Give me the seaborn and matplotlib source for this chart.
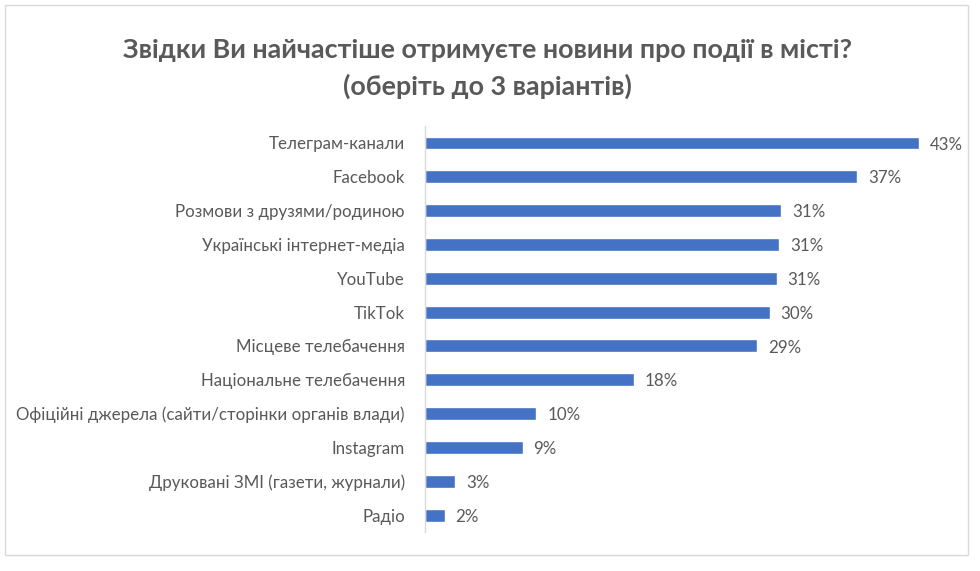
import matplotlib
matplotlib.use("Agg")
import matplotlib.pyplot as plt
import seaborn as sns
import pandas as pd
from matplotlib.patches import Rectangle

categories = [
    "Телеграм-канали",
    "Facebook",
    "Розмови з друзями/родиною",
    "Українські інтернет-медіа",
    "YouTube",
    "TikTok",
    "Місцеве телебачення",
    "Національне телебачення",
    "Офіційні джерела (сайти/сторінки органів влади)",
    "Instagram",
    "Друковані ЗМІ (газети, журнали)",
    "Радіо",
]
values = [43.0, 37.6, 31.0, 30.8, 30.6, 30.0, 28.9, 18.2, 9.7, 8.5, 2.6, 1.7]
labels = ["43%", "37%", "31%", "31%", "31%", "30%", "29%", "18%", "10%", "9%", "3%", "2%"]

df = pd.DataFrame({"cat": categories, "val": values})

sns.set_theme(style="white")
plt.rcParams["font.family"] = ["Lato", "DejaVu Sans"]

grey = "#595959"
fig = plt.figure(figsize=(9.8, 5.71), dpi=100)
ax = fig.add_axes([0.4337, 0.0683, 0.5276, 0.711])

sns.barplot(data=df, x="val", y="cat", color="#4472C4", saturation=1,
            width=0.38, ax=ax)

# value labels to the right of each bar
for p, lab in zip(ax.patches, labels):
    ax.text(p.get_width() + 0.95, p.get_y() + p.get_height() / 2 + 0.05, lab,
            va="center", ha="left", fontsize=12.2, color=grey)

ax.set_xlim(0, 45)
ax.set_ylim(11.5, -0.5)
ax.set_xlabel("")
ax.set_ylabel("")
ax.set_xticks([])
ax.tick_params(axis="y", length=0, pad=14.5, labelsize=12.2, labelcolor=grey)
for s in ["top", "right", "bottom"]:
    ax.spines[s].set_visible(False)
ax.spines["left"].set_color("#d9d9d9")
ax.spines["left"].set_linewidth(1)

fig.text(0.497, 0.912, "Звідки Ви найчастіше отримуєте новини про події в місті?",
         ha="center", va="center", fontsize=19.4, fontweight="bold", color=grey)
fig.text(0.497, 0.849, "(оберіть до 3 варіантів)",
         ha="center", va="center", fontsize=19.4, fontweight="bold", color=grey)

fig.patches.append(Rectangle((0.005, 0.028), 0.983, 0.963, transform=fig.transFigure,
                             fill=False, edgecolor="#d9d9d9", linewidth=1))

fig.savefig("out.png", dpi=100, facecolor="white")
